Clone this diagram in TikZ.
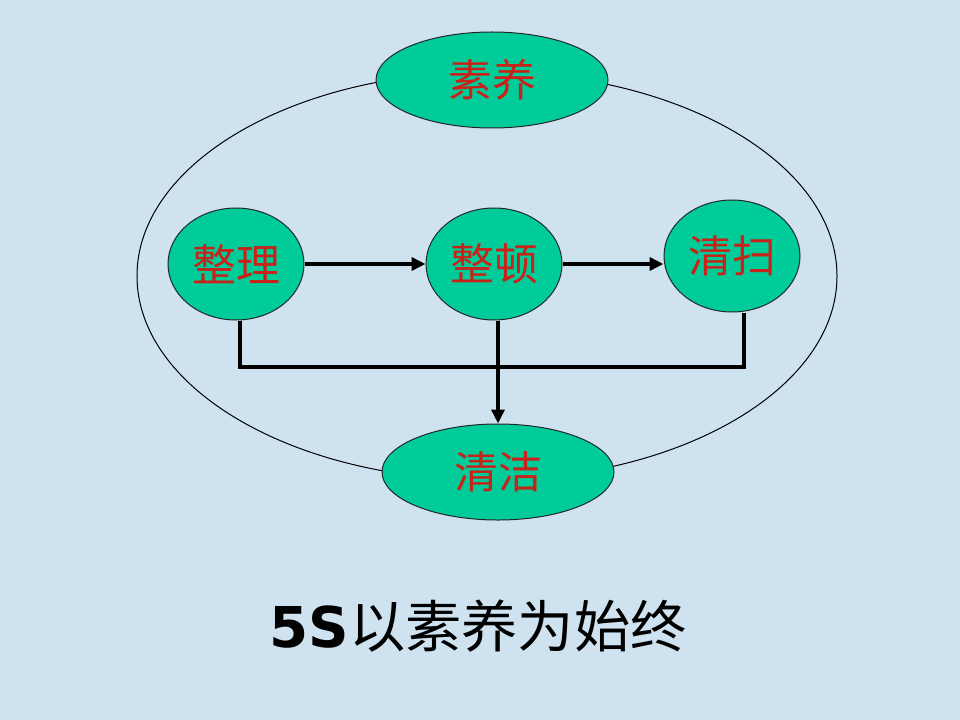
\documentclass[tikz,border=0pt]{standalone}
\usepackage{fontspec}
\newfontfamily\cjk{Noto Sans CJK SC}
\newfontfamily\latinbold{DejaVu Sans}
\usepackage{xcolor}
\usetikzlibrary{arrows.meta, positioning, calc, shapes.geometric}
\definecolor{slidebg}{RGB}{206,226,240}
\definecolor{stagefill}{RGB}{0,204,153}
\definecolor{stagetext}{RGB}{200,35,25}

\begin{document}
\begin{tikzpicture}[x=0.2mm, y=-0.2mm,
    stage/.style={ellipse, draw=black!85, line width=0.2mm, fill=stagefill, minimum width=27.2mm,
        minimum height=22.4mm, inner sep=0pt, text=stagetext, font=\cjk\fontsize{25}{30}\selectfont},
    goal/.style={stage, minimum width=46.4mm, minimum height=19.2mm},
    link/.style={line width=0.75mm},
    flow/.style={link, -{Triangle[length=2.8mm, width=2.6mm]}}]
    \fill[slidebg] (0,0) rectangle (960,720);
    \draw[line width=0.2mm] (487,276) ellipse [x radius=70mm, y radius=40.8mm];
    \node[stage] (zl) at (236,264) {整理};
    \node[stage] (zd) at (494,264) {整顿};
    \node[stage] (qs) at (732,256) {清扫};
    \node[goal] (sy) at (492,80) {素养};
    \node[goal] (qj) at (498,472) {清洁};
    \node[font=\fontsize{32}{38}\selectfont] (motto) at (478,626) {{\latinbold\bfseries 5S}{\cjk 以素养为始终}};
    \coordinate (jl) at (240,367);
    \coordinate (jr) at (744,367);
    \draw[flow] (zl.east) -- (zd.west);
    \draw[flow] (zd.east) -- (zd.east -| qs.west);
    \draw[link] (zl.south -| jl) -- (jl) -- (jr) -- (qs.south -| jr);
    \draw[flow] (zd.south -| qj.north) -- (qj.north);
\end{tikzpicture}
\end{document}
